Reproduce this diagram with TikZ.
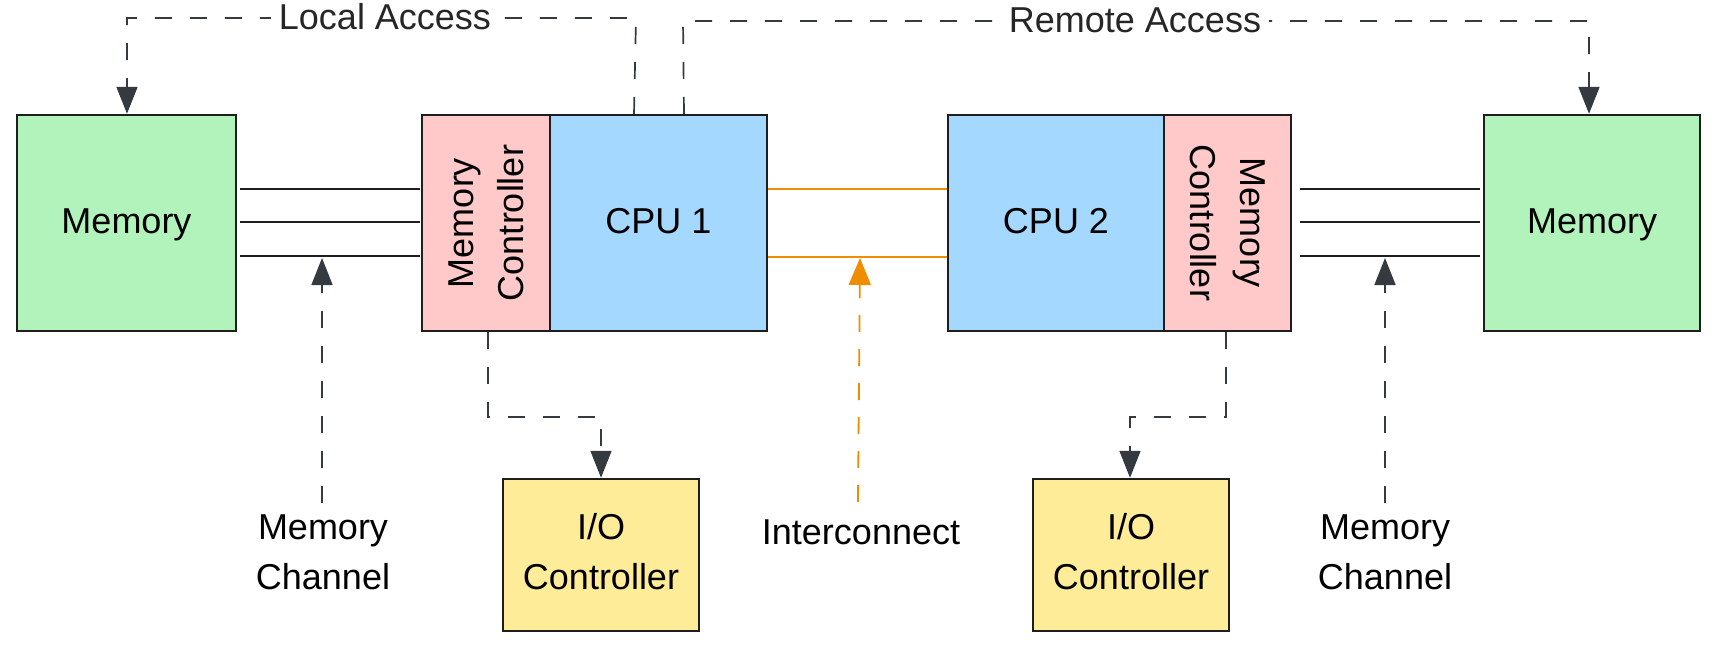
\documentclass[tikz,border=0pt]{standalone}
\usepackage{fontspec}
\setmainfont{Liberation Sans}
\usetikzlibrary{arrows.meta,fit}
\definecolor{memgreen}{HTML}{B2F2BB}
\definecolor{mcpink}{HTML}{FFC9C9}
\definecolor{cpublue}{HTML}{A5D8FF}
\definecolor{ioyellow}{HTML}{FFEC99}
\definecolor{icorange}{HTML}{F08C00}
\definecolor{ink}{HTML}{1E1E1E}
\definecolor{arrowc}{HTML}{343A40}
\begin{document}
\begin{tikzpicture}[x=0.5pt,y=-0.5pt,
  font=\fontsize{18}{25}\selectfont,
  box/.style={draw=ink, line width=1.2pt, inner sep=0pt},
  bus/.style={draw=ink, line width=1.1pt},
  icbus/.style={draw=icorange, line width=1pt},
  dasharrow/.style={draw=arrowc, line width=0.85pt, dash pattern=on 8.5pt off 9pt,
    -{Triangle[length=13.5pt,width=10.5pt]}},
  icarrow/.style={draw=icorange, line width=0.9pt, dash pattern=on 8.5pt off 8.5pt,
    -{Triangle[length=13.5pt,width=11pt]}},
  lbl/.style={align=center, text=black, inner sep=0pt},
  pathlbl/.style={fill=white, text=black!85, inner xsep=4pt, inner ysep=2pt}]
\useasboundingbox (0,0) rectangle (1723,652);

% boxes
\node[box, fill=memgreen, fit={(17,115) (236,331)}] (memL) {};
\node[box, fill=mcpink, fit={(422,115) (550,331)}] (mcL) {};
\node[box, fill=cpublue, fit={(550,115) (767,331)}] (cpu1) {};
\node[box, fill=cpublue, fit={(948,115) (1164,331)}] (cpu2) {};
\node[box, fill=mcpink, fit={(1164,115) (1291,331)}] (mcR) {};
\node[box, fill=memgreen, fit={(1484,115) (1700,331)}] (memR) {};
\node[box, fill=ioyellow, fit={(503,479) (699,631)}] (ioL) {};
\node[box, fill=ioyellow, fit={(1033,479) (1229,631)}] (ioR) {};

% box texts
\node[lbl] (memLtext) at ([yshift=-1pt]memL.center) {Memory};
\node[lbl] (memRtext) at ([yshift=-1pt]memR.center) {Memory};
\node[lbl] (cpu1text) at ([yshift=1pt]cpu1.center) {CPU 1};
\node[lbl] (cpu2text) at ([yshift=1pt]cpu2.center) {CPU 2};
\node[lbl] (ioLtext) at ([yshift=1.5pt]ioL.center) {I/O\\Controller};
\node[lbl] (ioRtext) at ([yshift=1.5pt]ioR.center) {I/O\\Controller};
\node[lbl, rotate=90] (mcLtext) at (mcL.center) {Memory\\Controller};
\node[lbl, rotate=-90] (mcRtext) at (mcR.center) {Memory\\Controller};

% memory channels
\foreach \yy in {189,222,256}{
  \draw[bus] ([xshift=1.5pt]memL.east |- 0,\yy) -- ([xshift=-0.5pt]mcL.west |- 0,\yy);
  \draw[bus] ([xshift=4pt]mcR.east |- 0,\yy) -- ([xshift=-1.5pt]memR.west |- 0,\yy);
}
% interconnect
\draw[icbus] (cpu1.east |- 0,189) -- (cpu2.west |- 0,189);
\draw[icbus] (cpu1.east |- 0,257) -- (cpu2.west |- 0,257);

% labels
\node[lbl] (mchL) at (323,552) {Memory\\Channel};
\node[lbl] (mchR) at (1385,552) {Memory\\Channel};
\node[lbl] (icl) at (861,532) {Interconnect};

\coordinate (mchLtop) at (322,503);
\coordinate (mchRtop) at (1385,503);
\coordinate (mchLtip) at (322,258);
\coordinate (mchRtip) at (1385,258);
\coordinate (icltop) at (858,502);
\coordinate (icltip) at (860,258);

\draw[dasharrow] (mchLtop) -- (mchLtip);
\draw[dasharrow] (mchRtop) -- (mchRtip);
\draw[icarrow] (icltop) -- (icltip);

% access paths
\draw[dasharrow] (cpu1.north -| 634,0) -- (636,18) -- (127,18) -- (memL.north -| 127,0);
\node[pathlbl] (la) at (385,17) {Local Access};
\draw[dasharrow] (cpu1.north -| 684,0) -- (683,21) -- (1589,21) -- (memR.north -| 1589,0);
\node[pathlbl] (ra) at (1135,20) {Remote Access};

% I/O paths
\draw[dasharrow] (mcL.south -| 488,0) -- (488,417) -- (601,417) -- (ioL.north -| 601,0);
\draw[dasharrow] (mcR.south -| 1226,0) -- (1226,417) -- (1130,417) -- (ioR.north -| 1130,0);
\end{tikzpicture}
\end{document}
